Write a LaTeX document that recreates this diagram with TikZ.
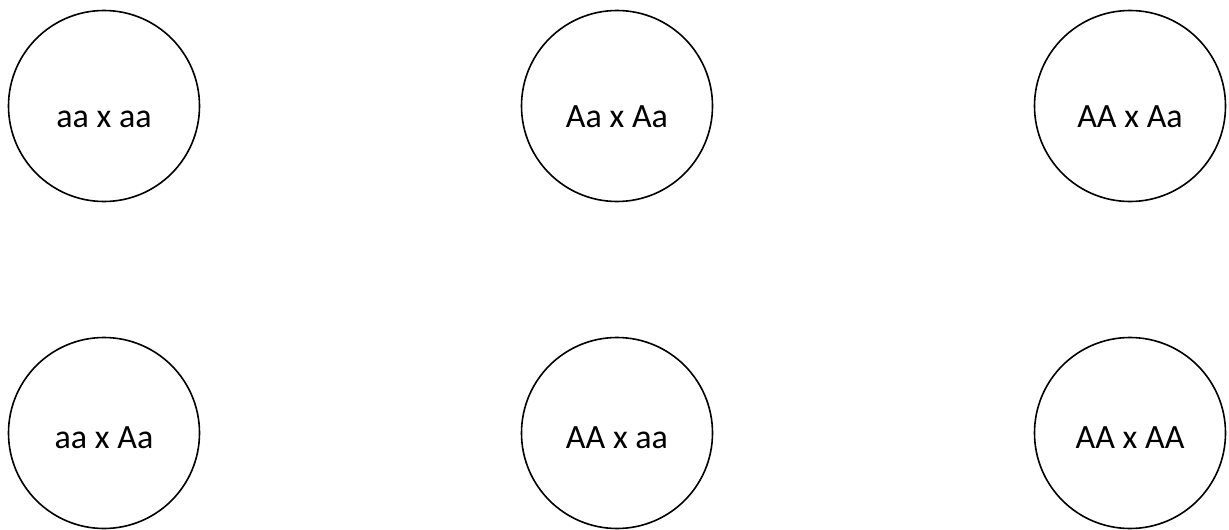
\documentclass[tikz,border=0pt]{standalone}
\usepackage{fontspec}
\setmainfont{Carlito}
\begin{document}
\begin{tikzpicture}[x=1pt,y=-1pt,
  cross/.style={circle,draw=black,line width=1.6pt,minimum size=191pt,inner sep=0pt},
  lbl/.style={anchor=base,inner sep=0pt,font=\fontsize{34}{37}\selectfont}]
\useasboundingbox (0,0) rectangle (1229,530);
\node[cross] (c1) at (104,106) {};
\node[cross] (c2) at (617,106) {};
\node[cross] (c3) at (1130,106) {};
\node[cross] (c4) at (104,433) {};
\node[cross] (c5) at (617,433) {};
\node[cross] (c6) at (1130,433) {};
\node[lbl] (t1) at ([yshift=-21pt]c1.center) {aa x aa};
\node[lbl] (t2) at ([yshift=-21pt]c2.center) {Aa x Aa};
\node[lbl] (t3) at ([yshift=-21pt]c3.center) {AA x Aa};
\node[lbl] (t4) at ([yshift=-15pt]c4.center) {aa x Aa};
\node[lbl] (t5) at ([yshift=-15pt]c5.center) {AA x aa};
\node[lbl] (t6) at ([yshift=-15pt]c6.center) {AA x AA};
\end{tikzpicture}
\end{document}
